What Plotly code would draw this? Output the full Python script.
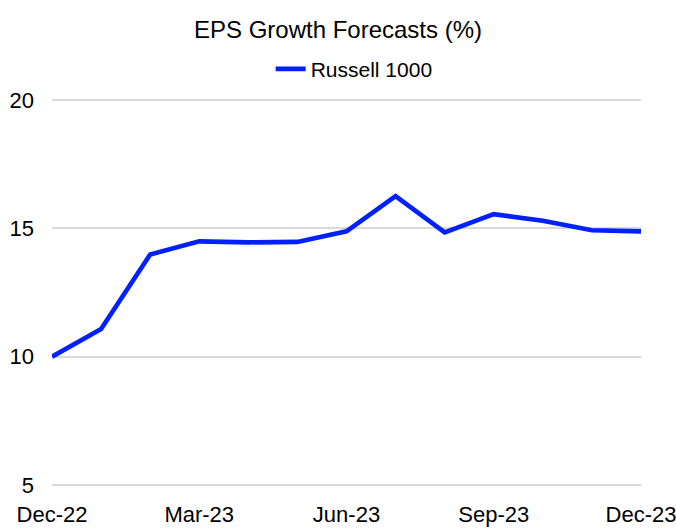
import plotly.graph_objects as go

# Monthly EPS growth forecasts, Russell 1000 (%)
months = ["Dec-22", "Jan-23", "Feb-23", "Mar-23", "Apr-23", "May-23", "Jun-23",
          "Jul-23", "Aug-23", "Sep-23", "Oct-23", "Nov-23", "Dec-23"]
russell_1000 = [10.0, 11.08, 13.98, 14.49, 14.45, 14.47, 14.88,
                16.25, 14.84, 15.55, 15.29, 14.92, 14.88]
tick_labels = ["Dec-22", "Mar-23", "Jun-23", "Sep-23", "Dec-23"]
y_ticks = [5, 10, 15, 20]

font_family = "Liberation Sans, Arial, sans-serif"

fig = go.Figure()
fig.add_trace(go.Scatter(
    x=months,
    y=russell_1000,
    mode="lines",
    name="Russell 1000",
    line=dict(color="rgb(0,32,255)", width=4.6),
))

fig.update_layout(
    width=676,
    height=528,
    paper_bgcolor="white",
    plot_bgcolor="white",
    font=dict(family=font_family, color="black", size=22),
    title=dict(
        text="EPS Growth Forecasts (%)",
        x=0.5, xanchor="center",
        y=1 - 30 / 528, yanchor="middle", yref="container",
        font=dict(size=24, family=font_family, color="black"),
    ),
    legend=dict(
        orientation="h",
        x=0.513, xanchor="center",
        y=1.074, yanchor="middle",
        font=dict(size=21),
        bgcolor="rgba(0,0,0,0)",
    ),
    showlegend=True,
    margin=dict(l=52, r=35, t=98, b=41),
)

fig.update_xaxes(
    type="category",
    categoryorder="array",
    categoryarray=months,
    range=[0, len(months) - 1],
    tickmode="array",
    tickvals=tick_labels,
    ticktext=tick_labels,
    showgrid=False,
    showline=False,
    zeroline=False,
    ticks="",
    ticklabelstandoff=12,
    automargin=False,
    tickfont=dict(size=22),
)

fig.update_yaxes(
    range=[4.93, 20.07],
    tickmode="array",
    tickvals=y_ticks,
    showgrid=True,
    gridcolor="#d9d9d9",
    gridwidth=1.5,
    zeroline=False,
    showline=False,
    ticks="",
    ticklabelstandoff=17,
    automargin=False,
    tickfont=dict(size=22),
)

fig.write_html(
    "out.html",
    config={"displayModeBar": False},
    post_script="document.body.style.margin='0';document.body.style.overflow='hidden';",
)
